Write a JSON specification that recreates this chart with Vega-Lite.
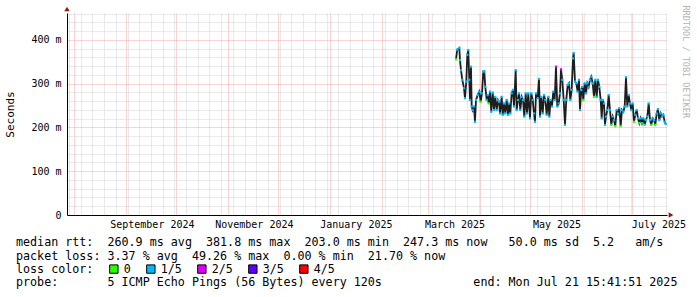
{
  "$schema": "https://vega.github.io/schema/vega-lite/v6.json",
  "width": 600,
  "height": 202,
  "autosize": {"type": "none"},
  "padding": {"left": 67, "top": 13, "right": 30, "bottom": 82},
  "background": "white",
  "config": {"view": {"stroke": null}, "font": "DejaVu Sans Mono"},
  "title": {
    "text": ["median rtt:\u00a0\u00a0260.9 ms avg\u00a0\u00a0381.8 ms max\u00a0\u00a0203.0 ms min\u00a0\u00a0247.3 ms now\u00a0\u00a0\u00a050.0 ms sd\u00a0\u00a05.2\u00a0\u00a0\u00a0am/s", "packet loss: 3.37 % avg\u00a0\u00a049.26 % max\u00a0\u00a00.00 % min\u00a0\u00a021.70 % now"],
    "subtitle": "probe:\u00a0\u00a0\u00a0\u00a0\u00a0\u00a0\u00a05 ICMP Echo Pings (56 Bytes) every 120s\u00a0\u00a0\u00a0\u00a0\u00a0\u00a0\u00a0\u00a0\u00a0\u00a0\u00a0\u00a0\u00a0end: Mon Jul 21 15:41:51 2025",
    "orient": "bottom", "anchor": "start", "frame": "group", "dx": -51, "offset": -39,
    "font": "DejaVu Sans Mono", "fontSize": 11.7, "fontWeight": "normal", "color": "#000", "lineHeight": 14,
    "subtitleFont": "DejaVu Sans Mono", "subtitleFontSize": 11.7, "subtitleFontWeight": "normal", "subtitleColor": "#000", "subtitleLineHeight": 14, "subtitlePadding": 14
  },
  "data": {"values": [
    {"t":"2025-03-17T10:48","v":0.356,"loss":"0"},
    {"t":"2025-03-18T05:17","v":0.378,"loss":"1/5"},
    {"t":"2025-03-19T10:05","v":0.3818,"loss":"1/5"},
    {"t":"2025-03-19T20:10","v":0.354,"loss":"1/5"},
    {"t":"2025-03-20T10:34","v":0.331,"loss":"1/5"},
    {"t":"2025-03-21T05:17","v":0.309,"loss":"1/5"},
    {"t":"2025-03-22T05:31","v":0.290,"loss":"1/5"},
    {"t":"2025-03-22T19:55","v":0.267,"loss":"1/5"},
    {"t":"2025-03-23T14:38","v":0.305,"loss":"1/5"},
    {"t":"2025-03-24T05:02","v":0.366,"loss":"1/5"},
    {"t":"2025-03-24T19:12","v":0.377,"loss":"1/5"},
    {"t":"2025-03-25T09:36","v":0.309,"loss":"1/5"},
    {"t":"2025-03-25T19:40","v":0.263,"loss":"1/5"},
    {"t":"2025-03-26T10:05","v":0.339,"loss":"1/5"},
    {"t":"2025-03-26T20:10","v":0.248,"loss":"1/5"},
    {"t":"2025-03-27T10:34","v":0.240,"loss":"1/5"},
    {"t":"2025-03-28T05:02","v":0.248,"loss":"1/5"},
    {"t":"2025-03-28T19:26","v":0.213,"loss":"1/5"},
    {"t":"2025-03-29T09:50","v":0.263,"loss":"1/5"},
    {"t":"2025-03-30T10:19","v":0.274,"loss":"1/5"},
    {"t":"2025-03-31T09:07","v":0.282,"loss":"1/5"},
    {"t":"2025-04-01T05:17","v":0.259,"loss":"0"},
    {"t":"2025-04-02T00:00","v":0.278,"loss":"1/5"},
    {"t":"2025-04-02T18:43","v":0.328,"loss":"1/5"},
    {"t":"2025-04-03T08:53","v":0.328,"loss":"1/5"},
    {"t":"2025-04-03T23:17","v":0.293,"loss":"1/5"},
    {"t":"2025-04-04T19:26","v":0.263,"loss":"1/5"},
    {"t":"2025-04-05T09:50","v":0.274,"loss":"1/5"},
    {"t":"2025-04-06T00:00","v":0.255,"loss":"0"},
    {"t":"2025-04-06T18:43","v":0.282,"loss":"1/5"},
    {"t":"2025-04-07T13:26","v":0.236,"loss":"1/5"},
    {"t":"2025-04-08T09:36","v":0.280,"loss":"1/5"},
    {"t":"2025-04-09T04:05","v":0.240,"loss":"1/5"},
    {"t":"2025-04-09T22:48","v":0.270,"loss":"1/5"},
    {"t":"2025-04-10T18:58","v":0.240,"loss":"1/5"},
    {"t":"2025-04-11T13:41","v":0.263,"loss":"1/5"},
    {"t":"2025-04-12T03:50","v":0.259,"loss":"1/5"},
    {"t":"2025-04-12T18:14","v":0.232,"loss":"1/5"},
    {"t":"2025-04-13T18:43","v":0.270,"loss":"1/5"},
    {"t":"2025-04-14T09:07","v":0.229,"loss":"1/5"},
    {"t":"2025-04-15T03:36","v":0.255,"loss":"1/5"},
    {"t":"2025-04-15T22:19","v":0.232,"loss":"1/5"},
    {"t":"2025-04-16T18:29","v":0.263,"loss":"1/5"},
    {"t":"2025-04-17T13:12","v":0.229,"loss":"1/5"},
    {"t":"2025-04-18T07:55","v":0.255,"loss":"1/5"},
    {"t":"2025-04-18T22:05","v":0.232,"loss":"1/5"},
    {"t":"2025-04-19T18:14","v":0.278,"loss":"1/5"},
    {"t":"2025-04-20T12:58","v":0.286,"loss":"1/5"},
    {"t":"2025-04-21T03:22","v":0.248,"loss":"1/5"},
    {"t":"2025-04-22T03:36","v":0.331,"loss":"1/5"},
    {"t":"2025-04-22T18:00","v":0.240,"loss":"1/5"},
    {"t":"2025-04-23T12:43","v":0.263,"loss":"1/5"},
    {"t":"2025-04-24T03:07","v":0.278,"loss":"1/5"},
    {"t":"2025-04-24T21:36","v":0.240,"loss":"1/5"},
    {"t":"2025-04-25T17:46","v":0.270,"loss":"1/5"},
    {"t":"2025-04-26T12:29","v":0.263,"loss":"1/5"},
    {"t":"2025-04-27T07:12","v":0.225,"loss":"1/5"},
    {"t":"2025-04-28T03:07","v":0.278,"loss":"1/5"},
    {"t":"2025-04-28T21:50","v":0.232,"loss":"1/5"},
    {"t":"2025-04-29T16:34","v":0.278,"loss":"1/5"},
    {"t":"2025-04-30T17:02","v":0.221,"loss":"1/5"},
    {"t":"2025-05-01T11:31","v":0.278,"loss":"1/5"},
    {"t":"2025-05-02T07:41","v":0.263,"loss":"1/5"},
    {"t":"2025-05-03T02:24","v":0.232,"loss":"1/5"},
    {"t":"2025-05-03T16:48","v":0.213,"loss":"1/5"},
    {"t":"2025-05-04T06:58","v":0.278,"loss":"1/5"},
    {"t":"2025-05-05T07:26","v":0.267,"loss":"1/5"},
    {"t":"2025-05-06T02:10","v":0.311,"loss":"1/5"},
    {"t":"2025-05-06T16:34","v":0.225,"loss":"1/5"},
    {"t":"2025-05-07T11:02","v":0.270,"loss":"1/5"},
    {"t":"2025-05-08T07:12","v":0.232,"loss":"1/5"},
    {"t":"2025-05-09T01:55","v":0.274,"loss":"1/5"},
    {"t":"2025-05-09T20:38","v":0.263,"loss":"1/5"},
    {"t":"2025-05-10T16:34","v":0.229,"loss":"1/5"},
    {"t":"2025-05-11T15:36","v":0.270,"loss":"1/5"},
    {"t":"2025-05-12T06:00","v":0.225,"loss":"1/5"},
    {"t":"2025-05-13T02:10","v":0.263,"loss":"1/5"},
    {"t":"2025-05-13T20:38","v":0.248,"loss":"1/5"},
    {"t":"2025-05-14T15:22","v":0.282,"loss":"1/5"},
    {"t":"2025-05-15T11:31","v":0.263,"loss":"1/5"},
    {"t":"2025-05-16T06:14","v":0.339,"loss":"2/5"},
    {"t":"2025-05-17T00:43","v":0.248,"loss":"1/5"},
    {"t":"2025-05-17T20:53","v":0.255,"loss":"1/5"},
    {"t":"2025-05-18T15:36","v":0.278,"loss":"1/5"},
    {"t":"2025-05-19T06:00","v":0.333,"loss":"2/5"},
    {"t":"2025-05-20T00:29","v":0.309,"loss":"1/5"},
    {"t":"2025-05-20T20:38","v":0.263,"loss":"1/5"},
    {"t":"2025-05-21T15:22","v":0.206,"loss":"1/5"},
    {"t":"2025-05-22T10:05","v":0.263,"loss":"1/5"},
    {"t":"2025-05-23T06:00","v":0.297,"loss":"1/5"},
    {"t":"2025-05-24T00:43","v":0.301,"loss":"1/5"},
    {"t":"2025-05-24T19:26","v":0.263,"loss":"1/5"},
    {"t":"2025-05-25T15:36","v":0.286,"loss":"1/5"},
    {"t":"2025-05-26T10:05","v":0.358,"loss":"1/5"},
    {"t":"2025-05-26T20:10","v":0.370,"loss":"1/5"},
    {"t":"2025-05-27T14:53","v":0.305,"loss":"1/5"},
    {"t":"2025-05-28T09:36","v":0.301,"loss":"1/5"},
    {"t":"2025-05-29T05:31","v":0.282,"loss":"1/5"},
    {"t":"2025-05-30T00:14","v":0.309,"loss":"1/5"},
    {"t":"2025-05-30T14:38","v":0.240,"loss":"1/5"},
    {"t":"2025-05-31T09:22","v":0.286,"loss":"1/5"},
    {"t":"2025-05-31T23:46","v":0.293,"loss":"1/5"},
    {"t":"2025-06-01T13:55","v":0.263,"loss":"0"},
    {"t":"2025-06-02T10:05","v":0.301,"loss":"1/5"},
    {"t":"2025-06-03T04:48","v":0.278,"loss":"1/5"},
    {"t":"2025-06-03T23:31","v":0.301,"loss":"1/5"},
    {"t":"2025-06-04T19:26","v":0.293,"loss":"1/5"},
    {"t":"2025-06-05T14:10","v":0.309,"loss":"1/5"},
    {"t":"2025-06-06T08:53","v":0.316,"loss":"1/5"},
    {"t":"2025-06-07T05:02","v":0.301,"loss":"1/5"},
    {"t":"2025-06-07T23:31","v":0.270,"loss":"0"},
    {"t":"2025-06-08T18:14","v":0.309,"loss":"1/5"},
    {"t":"2025-06-09T14:24","v":0.270,"loss":"1/5"},
    {"t":"2025-06-10T09:07","v":0.309,"loss":"1/5"},
    {"t":"2025-06-11T03:36","v":0.293,"loss":"1/5"},
    {"t":"2025-06-11T23:46","v":0.263,"loss":"1/5"},
    {"t":"2025-06-12T14:10","v":0.221,"loss":"1/5"},
    {"t":"2025-06-13T04:34","v":0.263,"loss":"1/5"},
    {"t":"2025-06-13T23:02","v":0.255,"loss":"1/5"},
    {"t":"2025-06-14T13:26","v":0.206,"loss":"1/5"},
    {"t":"2025-06-15T03:50","v":0.225,"loss":"1/5"},
    {"t":"2025-06-15T22:34","v":0.240,"loss":"1/5"},
    {"t":"2025-06-16T18:43","v":0.274,"loss":"1/5"},
    {"t":"2025-06-17T13:12","v":0.240,"loss":"1/5"},
    {"t":"2025-06-18T07:55","v":0.206,"loss":"0"},
    {"t":"2025-06-19T04:05","v":0.225,"loss":"1/5"},
    {"t":"2025-06-19T22:48","v":0.217,"loss":"1/5"},
    {"t":"2025-06-20T17:17","v":0.203,"loss":"0"},
    {"t":"2025-06-21T13:26","v":0.240,"loss":"1/5"},
    {"t":"2025-06-22T08:10","v":0.232,"loss":"1/5"},
    {"t":"2025-06-23T02:53","v":0.244,"loss":"1/5"},
    {"t":"2025-06-23T22:48","v":0.203,"loss":"0"},
    {"t":"2025-06-24T17:31","v":0.240,"loss":"1/5"},
    {"t":"2025-06-25T12:14","v":0.236,"loss":"1/5"},
    {"t":"2025-06-26T08:10","v":0.248,"loss":"1/5"},
    {"t":"2025-06-27T02:53","v":0.315,"loss":"1/5"},
    {"t":"2025-06-27T21:36","v":0.248,"loss":"1/5"},
    {"t":"2025-06-28T17:46","v":0.274,"loss":"1/5"},
    {"t":"2025-06-29T12:14","v":0.255,"loss":"1/5"},
    {"t":"2025-06-30T06:58","v":0.240,"loss":"1/5"},
    {"t":"2025-07-01T03:07","v":0.255,"loss":"1/5"},
    {"t":"2025-07-01T21:50","v":0.213,"loss":"0"},
    {"t":"2025-07-02T16:19","v":0.229,"loss":"1/5"},
    {"t":"2025-07-03T12:29","v":0.240,"loss":"1/5"},
    {"t":"2025-07-04T07:12","v":0.221,"loss":"1/5"},
    {"t":"2025-07-05T01:55","v":0.210,"loss":"0"},
    {"t":"2025-07-05T21:50","v":0.221,"loss":"1/5"},
    {"t":"2025-07-06T16:34","v":0.210,"loss":"1/5"},
    {"t":"2025-07-07T11:17","v":0.221,"loss":"1/5"},
    {"t":"2025-07-08T07:26","v":0.206,"loss":"0"},
    {"t":"2025-07-09T01:55","v":0.217,"loss":"1/5"},
    {"t":"2025-07-09T20:38","v":0.225,"loss":"1/5"},
    {"t":"2025-07-10T16:48","v":0.255,"loss":"1/5"},
    {"t":"2025-07-11T11:31","v":0.217,"loss":"1/5"},
    {"t":"2025-07-12T06:00","v":0.206,"loss":"0"},
    {"t":"2025-07-13T02:10","v":0.221,"loss":"1/5"},
    {"t":"2025-07-13T20:53","v":0.217,"loss":"1/5"},
    {"t":"2025-07-14T15:36","v":0.206,"loss":"0"},
    {"t":"2025-07-15T11:31","v":0.232,"loss":"1/5"},
    {"t":"2025-07-16T06:14","v":0.242,"loss":"1/5"},
    {"t":"2025-07-17T00:58","v":0.217,"loss":"1/5"},
    {"t":"2025-07-17T21:07","v":0.232,"loss":"1/5"},
    {"t":"2025-07-18T15:36","v":0.225,"loss":"1/5"},
    {"t":"2025-07-19T10:19","v":0.229,"loss":"1/5"},
    {"t":"2025-07-20T06:29","v":0.213,"loss":"1/5"},
    {"t":"2025-07-20T20:53","v":0.208,"loss":"1/5"}
  ]},
  "layer": [
    {
      "mark": {"type": "line", "color": "#1e1e1e", "strokeWidth": 1.8},
      "encoding": {
        "x": {"field": "t", "type": "temporal",
          "scale": {"domain": [{"year": 2024, "month": 7, "date": 27, "hours": 19}, {"year": 2025, "month": 7, "date": 21, "hours": 15, "minutes": 41}]},
          "axis": {"title": null, "orient": "bottom",
            "values": [{"year":2024,"month":8,"date":1},{"year":2024,"month":9,"date":1},{"year":2024,"month":10,"date":1},{"year":2024,"month":11,"date":1},{"year":2024,"month":12,"date":1},{"year":2025,"month":1,"date":1},{"year":2025,"month":2,"date":1},{"year":2025,"month":3,"date":1},{"year":2025,"month":4,"date":1},{"year":2025,"month":5,"date":1},{"year":2025,"month":6,"date":1},{"year":2025,"month":7,"date":1}],
            "labelExpr": "month(datum.value) % 2 == 0 ? timeFormat(datum.value, '%B %Y') : ''",
            "labelOffset": 26, "labelOverlap": false, "labelFlush": false, "labelBound": false,
            "labelFont": "DejaVu Sans Mono", "labelFontSize": 10, "labelColor": "#000", "labelPadding": 4,
            "ticks": false, "domain": true, "domainColor": "#000", "domainWidth": 1,
            "grid": true, "gridColor": "#f2a8a8", "gridDash": [1, 1], "gridWidth": 1, "gridOpacity": 1}},
        "y": {"field": "v", "type": "quantitative",
          "scale": {"domain": [0, 0.4617], "nice": false, "zero": true},
          "axis": {"orient": "left", "title": "Seconds", "titleFont": "DejaVu Sans Mono", "titleFontSize": 11, "titleFontWeight": "normal", "titleColor": "#000", "titlePadding": 15,
            "values": [0, 0.1, 0.2, 0.3, 0.4],
            "labelExpr": "datum.value == 0 ? '0' : format(datum.value * 1000, 'd') + ' m'",
            "labelFont": "DejaVu Sans Mono", "labelFontSize": 10, "labelColor": "#000", "labelPadding": 6,
            "ticks": false, "domain": true, "domainColor": "#000", "domainWidth": 1,
            "grid": true, "gridColor": "#f2a8a8", "gridDash": [1, 1], "gridWidth": 1, "gridOpacity": 1}}
      }
    },
    {
      "mark": {"type": "point", "shape": "square", "filled": true, "size": 5, "opacity": 1},
      "encoding": {
        "x": {"field": "t", "type": "temporal",
          "scale": {"domain": [{"year": 2024, "month": 7, "date": 27, "hours": 19}, {"year": 2025, "month": 7, "date": 21, "hours": 15, "minutes": 41}]},
          "axis": {"title": null, "orient": "bottom", "labels": false, "ticks": false, "domain": false,
            "values": [{"year":2024,"month":7,"date":29},{"year":2024,"month":8,"date":5},{"year":2024,"month":8,"date":12},{"year":2024,"month":8,"date":19},{"year":2024,"month":8,"date":26},{"year":2024,"month":9,"date":2},{"year":2024,"month":9,"date":9},{"year":2024,"month":9,"date":16},{"year":2024,"month":9,"date":23},{"year":2024,"month":9,"date":30},{"year":2024,"month":10,"date":7},{"year":2024,"month":10,"date":14},{"year":2024,"month":10,"date":21},{"year":2024,"month":10,"date":28},{"year":2024,"month":11,"date":4},{"year":2024,"month":11,"date":11},{"year":2024,"month":11,"date":18},{"year":2024,"month":11,"date":25},{"year":2024,"month":12,"date":2},{"year":2024,"month":12,"date":9},{"year":2024,"month":12,"date":16},{"year":2024,"month":12,"date":23},{"year":2024,"month":12,"date":30},{"year":2025,"month":1,"date":6},{"year":2025,"month":1,"date":13},{"year":2025,"month":1,"date":20},{"year":2025,"month":1,"date":27},{"year":2025,"month":2,"date":3},{"year":2025,"month":2,"date":10},{"year":2025,"month":2,"date":17},{"year":2025,"month":2,"date":24},{"year":2025,"month":3,"date":3},{"year":2025,"month":3,"date":10},{"year":2025,"month":3,"date":17},{"year":2025,"month":3,"date":24},{"year":2025,"month":3,"date":31},{"year":2025,"month":4,"date":7},{"year":2025,"month":4,"date":14},{"year":2025,"month":4,"date":21},{"year":2025,"month":4,"date":28},{"year":2025,"month":5,"date":5},{"year":2025,"month":5,"date":12},{"year":2025,"month":5,"date":19},{"year":2025,"month":5,"date":26},{"year":2025,"month":6,"date":2},{"year":2025,"month":6,"date":9},{"year":2025,"month":6,"date":16},{"year":2025,"month":6,"date":23},{"year":2025,"month":6,"date":30},{"year":2025,"month":7,"date":7},{"year":2025,"month":7,"date":14},{"year":2025,"month":7,"date":21}],
            "grid": true, "gridColor": "#d4d4d4", "gridDash": [1, 1], "gridWidth": 1, "gridOpacity": 1, "zindex": 0}},
        "y": {"field": "v", "type": "quantitative",
          "scale": {"domain": [0, 0.4617], "nice": false, "zero": true},
          "axis": {"orient": "right", "title": "RRDTOOL / TOBI OETIKER", "titleFont": "DejaVu Sans Mono", "titleFontSize": 8.5, "titleFontWeight": "normal", "titleColor": "#b4b4b4",
            "titleAngle": 90, "titleAnchor": "end", "titleAlign": "left", "titleBaseline": "middle", "titlePadding": 18, "titleY": -8,
            "labels": false, "ticks": false, "domain": false,
            "values": [0.02,0.04,0.06,0.08,0.12,0.14,0.16,0.18,0.22,0.24,0.26,0.28,0.32,0.34,0.36,0.38,0.42,0.44,0.46],
            "grid": true, "gridColor": "#d4d4d4", "gridDash": [1, 1], "gridWidth": 1, "gridOpacity": 1}},
        "color": {"field": "loss", "type": "nominal",
          "scale": {"domain": ["0", "1/5", "2/5", "3/5", "4/5"], "range": ["#26ff00", "#00b8ff", "#dd00ff", "#5e00ff", "#ff0000"]},
          "legend": {"title": "loss color:", "orient": "none", "legendX": -51, "legendY": 250, "direction": "horizontal",
            "titleOrient": "left", "titleFont": "DejaVu Sans Mono", "titleFontSize": 11.7, "titleFontWeight": "normal", "titleColor": "#000", "titlePadding": 14,
            "labelFont": "DejaVu Sans Mono", "labelFontSize": 11.7, "labelColor": "#000", "labelOffset": 4, "columnPadding": 13,
            "symbolType": "square", "symbolSize": 70, "symbolStrokeColor": "#000", "symbolStrokeWidth": 1, "symbolOpacity": 1, "padding": 0}}
      }
    },
    {
      "data": {"values": [{}]},
      "mark": {"type": "point", "shape": "triangle-right", "filled": true, "size": 30, "color": "#8b1a1a", "opacity": 1, "xOffset": 4},
      "encoding": {
        "x": {"datum": {"year": 2025, "month": 7, "date": 21, "hours": 15, "minutes": 41}, "type": "temporal", "axis": null},
        "y": {"datum": 0, "type": "quantitative", "axis": null}
      }
    },
    {
      "data": {"values": [{}]},
      "mark": {"type": "point", "shape": "triangle-up", "filled": true, "size": 30, "color": "#8b1a1a", "opacity": 1, "yOffset": -4},
      "encoding": {
        "x": {"datum": {"year": 2024, "month": 7, "date": 27, "hours": 19}, "type": "temporal", "axis": null},
        "y": {"datum": 0.4617, "type": "quantitative", "axis": null}
      }
    }
  ],
  "resolve": {"axis": {"x": "independent", "y": "independent"}}
}
